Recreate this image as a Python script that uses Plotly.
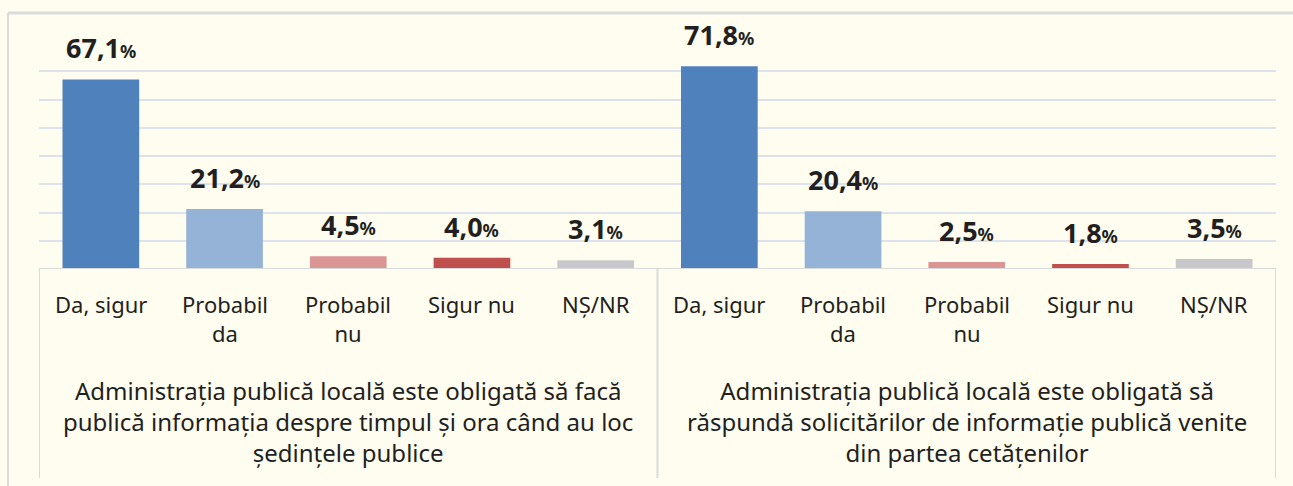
import plotly.graph_objects as go

categories = ["Da, sigur", "Probabil<br>da", "Probabil<br>nu", "Sigur nu", "NȘ/NR"]
group_titles = [
    "Administrația publică locală este obligată să facă<br>publică informația despre timpul și ora când au loc<br>ședințele publice",
    "Administrația publică locală este obligată să<br>răspundă solicitărilor de informație publică venite<br>din partea cetățenilor",
]
values_g1 = [67.1, 21.2, 4.5, 4.0, 3.1]
values_g2 = [71.8, 20.4, 2.5, 1.8, 3.5]
bar_colors = ["#4F81BD", "#95B3D7", "#D99694", "#C0504D", "#C8C8CC"]

BG = "#FEFDEF"
GRID = "#DDE3EC"
LINE = "#D9DADA"
TXT = "#231F20"
FONT = "Noto Sans"

all_vals = values_g1 + values_g2
xs = list(range(len(all_vals)))
colors = bar_colors * 2

fig = go.Figure()
fig.add_trace(go.Bar(x=xs, y=all_vals, marker=dict(color=colors, line=dict(width=0)),
                     width=0.62, hoverinfo="skip"))

ann = []
for x, v in zip(xs, all_vals):
    lbl = f"{v:.1f}".replace(".", ",")
    ann.append(dict(x=x, y=v, xref="x", yref="y", yanchor="bottom", yshift=11,
                    showarrow=False,
                    text=f"<b>{lbl}</b><b><span style='font-size:18px'>%</span></b>",
                    font=dict(family=FONT, size=27, color=TXT)))
n = len(categories)
for g in range(2):
    for i, c in enumerate(categories):
        ann.append(dict(x=g * n + i, y=0, xref="x", yref="paper", yanchor="top", yshift=-18,
                        showarrow=False, text=c, align="center",
                        font=dict(family=FONT, size=22, color=TXT)))
    ann.append(dict(x=g * n + (n - 1) / 2, y=0, xref="x", yref="paper", yanchor="top",
                    yshift=-103, showarrow=False, text=group_titles[g], align="center",
                    font=dict(family=FONT, size=24, color=TXT)))

shapes = []
# baseline of the category table
shapes.append(dict(type="line", xref="x", yref="y", x0=-0.5, x1=len(all_vals) - 0.5, y0=0, y1=0,
                   line=dict(color=LINE, width=2), layer="above"))
# vertical dividers
for xd in [-0.5, n - 0.5, 2 * n - 0.5]:
    shapes.append(dict(type="line", xref="x", yref="paper", ysizemode="pixel", yanchor=0,
                       x0=xd, x1=xd, y0=0, y1=-209, line=dict(color=LINE, width=2)))
# outer frame (top and left)
shapes.append(dict(type="line", xref="paper", yref="paper", xsizemode="pixel", ysizemode="pixel",
                   xanchor=0, yanchor=1, x0=-31, x1=1300, y0=30, y1=30,
                   line=dict(color=LINE, width=3)))
shapes.append(dict(type="line", xref="paper", yref="paper", xsizemode="pixel", ysizemode="pixel",
                   xanchor=0, yanchor=1, x0=-31, x1=-31, y0=30, y1=-500,
                   line=dict(color=LINE, width=2)))

fig.update_layout(
    width=1293, height=486,
    margin=dict(l=39, r=17, t=43, b=217),
    paper_bgcolor=BG, plot_bgcolor=BG,
    showlegend=False,
    annotations=ann, shapes=shapes,
    xaxis=dict(range=[-0.5, len(all_vals) - 0.5], showticklabels=False, showgrid=False,
               zeroline=False, showline=False, ticks=""),
    yaxis=dict(range=[0, 80], dtick=10, showticklabels=False, showgrid=True, gridcolor=GRID,
               gridwidth=2, zeroline=False, showline=False, ticks=""),
)

fig.write_html("out.html", config={"displayModeBar": False},
               post_script="document.body.style.margin='0';document.body.style.background='" + BG + "';")
